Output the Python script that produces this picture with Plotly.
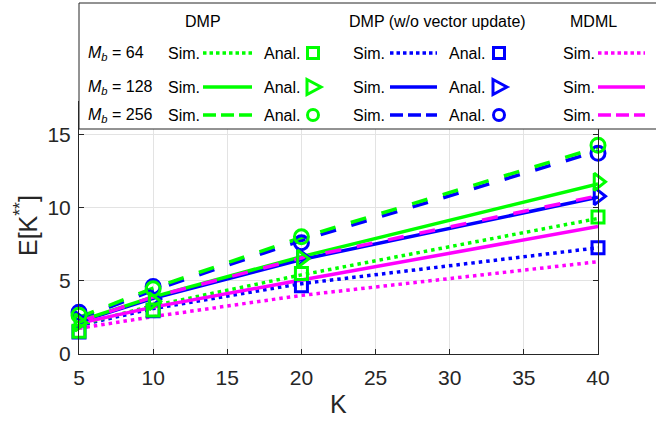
import plotly.graph_objects as go

# ---------------- data ----------------
K = [5, 10, 20, 40]

dmp_sim_64 = [2.0, 3.3, 5.4, 9.25]
dmp_sim_128 = [2.25, 3.9, 6.65, 11.6]
dmp_sim_256 = [2.5, 4.5, 7.95, 14.1]
wo_sim_64 = [1.95, 3.1, 4.8, 7.25]
wo_sim_128 = [2.2, 3.8, 6.45, 10.7]
wo_sim_256 = [2.4, 4.35, 7.75, 13.85]
mdml_sim_64 = [1.75, 2.55, 4.0, 6.3]
mdml_sim_128 = [2.1, 3.2, 5.05, 8.7]
mdml_sim_256 = [2.2, 3.9, 6.55, 10.8]

dmp_anal_64 = [1.55, 3.0, 5.5, 9.35]
dmp_anal_128 = [2.15, 3.6, 6.5, 11.75]
dmp_anal_256 = [2.65, 4.45, 8.0, 14.25]
wo_anal_64 = [1.5, 2.95, 4.65, 7.25]
wo_anal_128 = [2.3, 3.75, 6.6, 10.77]
wo_anal_256 = [2.85, 4.6, 7.6, 13.7]

x_ticks = [5, 10, 15, 20, 25, 30, 35, 40]
y_ticks = [0, 5, 10, 15]

GREEN = "#00FF00"
BLUE = "#0000FF"
MAGENTA = "#FF00FF"
AX = "#262626"
FONT = "Liberation Sans, Arial, sans-serif"

DOT = "3.5px,4px"
DASH = "16px,16px"
LW = 3.5

fig = go.Figure()

def line(y, color, dash):
    fig.add_trace(go.Scatter(x=K, y=y, mode="lines",
                             line=dict(color=color, width=LW, dash=dash),
                             showlegend=False, hoverinfo="skip"))

def marks(y, color, symbol, size):
    fig.add_trace(go.Scatter(x=K, y=y, mode="markers", cliponaxis=False,
                             marker=dict(symbol=symbol, size=size, color=color,
                                         line=dict(color=color, width=3)),
                             showlegend=False, hoverinfo="skip"))

# blue lines
line(wo_sim_64, BLUE, DOT)
line(wo_sim_128, BLUE, "solid")
line(wo_sim_256, BLUE, DASH)
# green lines
line(dmp_sim_64, GREEN, DOT)
line(dmp_sim_128, GREEN, "solid")
line(dmp_sim_256, GREEN, DASH)
# magenta lines
line(mdml_sim_64, MAGENTA, DOT)
line(mdml_sim_128, MAGENTA, "solid")
line(mdml_sim_256, MAGENTA, DASH)
# blue markers
marks(wo_anal_64, BLUE, "square-open", 12)
marks(wo_anal_128, BLUE, "triangle-right-open", 15)
marks(wo_anal_256, BLUE, "circle-open", 14)
# green markers
marks(dmp_anal_64, GREEN, "square-open", 12)
marks(dmp_anal_128, GREEN, "triangle-right-open", 15)
marks(dmp_anal_256, GREEN, "circle-open", 14)

# ---------------- layout ----------------
L, R, T, B = 79, 598, 102, 354
W, H = 656, 421

def px(x):
    return (x - L) / (R - L)

def py(y):
    return (B - y) / (B - T)

shapes = []
annotations = []

# legend box
shapes.append(dict(type="rect", xref="paper", yref="paper",
                   x0=px(79), x1=px(662), y0=py(129), y1=py(3),
                   fillcolor="white", line=dict(color=AX, width=1), layer="above"))

def txt(s, x, y, anchor="left", size=16):
    annotations.append(dict(text=s, xref="paper", yref="paper", x=px(x), y=py(y),
                            xanchor=anchor, yanchor="middle", showarrow=False,
                            font=dict(family=FONT, size=size, color="#000000")))

def lsample(x0, x1, y, color, dash):
    shapes.append(dict(type="line", xref="paper", yref="paper",
                       x0=px(x0), x1=px(x1), y0=py(y), y1=py(y),
                       line=dict(color=color, width=LW, dash=dash), layer="above"))

def msq(cx, cy, color):
    h = 5.5
    shapes.append(dict(type="rect", xref="paper", yref="paper",
                       x0=px(cx - h), x1=px(cx + h), y0=py(cy + h), y1=py(cy - h),
                       line=dict(color=color, width=3), layer="above"))

def mcirc(cx, cy, color):
    r = 5.5
    shapes.append(dict(type="circle", xref="paper", yref="paper",
                       x0=px(cx - r), x1=px(cx + r), y0=py(cy + r), y1=py(cy - r),
                       line=dict(color=color, width=3), layer="above"))

def mtri(cx, cy, color):
    pts = [(cx - 6, cy - 7.5), (cx + 8, cy), (cx - 6, cy + 7.5)]
    path = "M " + " L ".join(f"{px(a)},{py(b)}" for a, b in pts) + " Z"
    shapes.append(dict(type="path", xref="paper", yref="paper", path=path,
                       line=dict(color=color, width=3), layer="above"))

# headers
txt("DMP", 203, 21, "center")
txt("DMP (w/o vector update)", 437, 21, "center")
txt("MDML", 593, 21, "center")

rows = [53, 87, 115]
mb_labels = ["<i>M</i><sub><i>b</i></sub> = 64",
             "<i>M</i><sub><i>b</i></sub> = 128",
             "<i>M</i><sub><i>b</i></sub> = 256"]
dashes_leg = ["3.5px,3px", "solid", "13px,5px"]
markers_leg = [msq, mtri, mcirc]

for i, ry in enumerate(rows):
    txt(mb_labels[i], 86, ry)
    d = dashes_leg[i]
    # DMP group
    txt("Sim.", 166, ry)
    lsample(203, 252, ry, GREEN, d)
    txt("Anal.", 262, ry)
    markers_leg[i](313, ry, GREEN)
    # w/o group
    txt("Sim.", 351, ry)
    lsample(390, 437, ry, BLUE, d)
    txt("Anal.", 447, ry)
    markers_leg[i](499, ry, BLUE)
    # MDML
    txt("Sim.", 561, ry)
    lsample(598, 645, ry, MAGENTA, d)

# axis titles
annotations.append(dict(text="K", xref="paper", yref="paper", x=0.5, y=py(404),
                        xanchor="center", yanchor="middle", showarrow=False,
                        font=dict(family=FONT, size=25, color=AX)))
annotations.append(dict(text="E[K<sup>**</sup>]", xref="paper", yref="paper",
                        x=px(26), y=py(226), xanchor="center", yanchor="middle",
                        textangle=-90, showarrow=False,
                        font=dict(family=FONT, size=25, color=AX)))

fig.update_layout(
    width=W, height=H,
    margin=dict(l=L, r=W - R, t=T, b=H - B, pad=0),
    paper_bgcolor="white", plot_bgcolor="white",
    showlegend=False,
    shapes=shapes, annotations=annotations,
    font=dict(family=FONT, color=AX),
)
fig.update_xaxes(range=[5, 40], tickvals=x_ticks, ticktext=[str(v) for v in x_ticks],
                 showgrid=True, gridcolor="#e3e3e3", gridwidth=1,
                 showline=True, linecolor=AX, linewidth=1, mirror="ticks",
                 ticks="inside", ticklen=5, tickcolor=AX, ticklabelstandoff=5,
                 tickfont=dict(family=FONT, size=21, color=AX), zeroline=False)
fig.update_yaxes(range=[0, 17.2], tickvals=y_ticks, ticktext=[str(v) for v in y_ticks],
                 showgrid=True, gridcolor="#e3e3e3", gridwidth=1,
                 showline=True, linecolor=AX, linewidth=1, mirror="ticks",
                 ticks="inside", ticklen=5, tickcolor=AX, ticklabelstandoff=3,
                 tickfont=dict(family=FONT, size=21, color=AX), zeroline=False)

fig.write_html("out.html", config={"displayModeBar": False},
               post_script="document.body.style.margin='0px';document.body.style.overflow='hidden';")
